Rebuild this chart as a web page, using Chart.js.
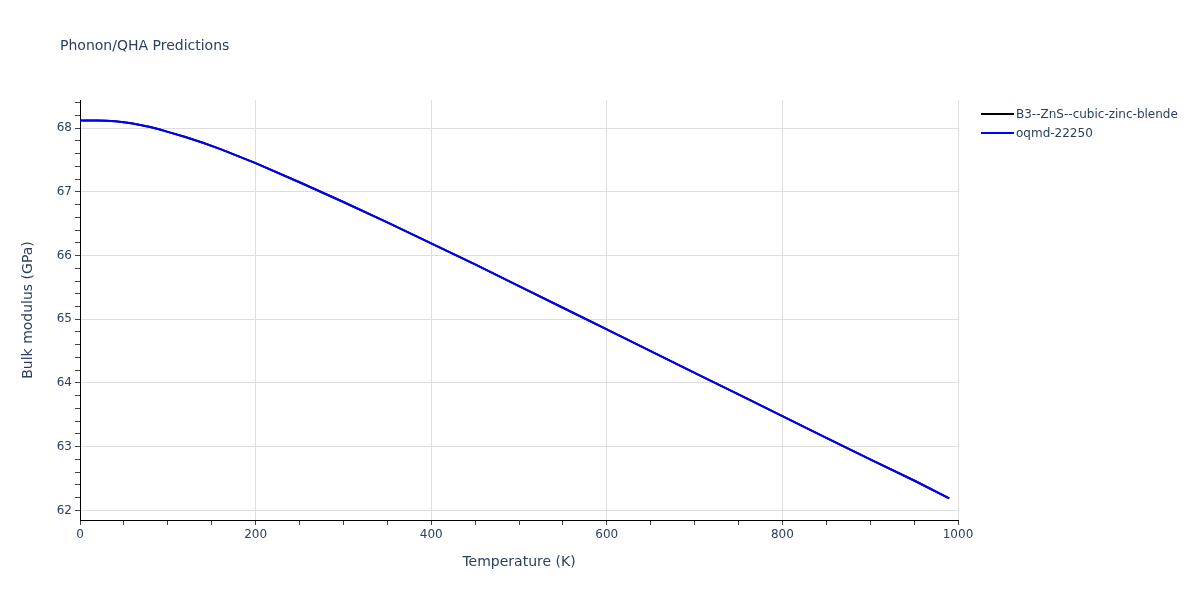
<!DOCTYPE html>
<html lang="en">
<head>
  <meta charset="UTF-8">
  <title>Phonon/QHA Predictions</title>
  <script src="https://cdn.jsdelivr.net/npm/chart.js"></script>
  <style>
    body {
      margin: 0;
      background: #fff;
      font-family: 'DejaVu Sans', Verdana, sans-serif;
      color: #2a3f5f;
    }
    .wrap {
      position: relative;
      width: 1200px;
      height: 600px;
    }
    #chartTitle {
      position: absolute;
      left: 60px;
      top: 35px;
      font-size: 14px;
      line-height: 20px;
    }
    #legend {
      position: absolute;
      left: 981px;
      top: 104px;
      font-size: 12px;
    }
    .legend-item {
      display: flex;
      align-items: center;
      height: 19px;
      white-space: nowrap;
    }
    .legend-line {
      width: 33px;
      height: 2px;
      margin-right: 2px;
    }
  </style>
</head>
<body>
  <div class="wrap">
    <canvas id="chartCanvas" width="1200" height="600"></canvas>
    <div id="chartTitle">Phonon/QHA Predictions</div>
    <div id="legend"></div>
  </div>

  <script>
    // temperature (K) and bulk modulus (GPa)
    const temperatures = [0, 10, 20, 30, 40, 50, 60, 70, 80, 90, 100, 120, 140, 160, 180, 200,
      250, 300, 350, 400, 450, 500, 550, 600, 650, 700, 750, 800, 850, 900, 950, 990];
    const bulkZincBlende = [68.12, 68.12, 68.12, 68.115, 68.105, 68.09, 68.07, 68.045, 68.015, 67.98,
      67.94, 67.86, 67.77, 67.67, 67.56, 67.45, 67.15, 66.84, 66.52, 66.19, 65.86, 65.52, 65.18,
      64.84, 64.50, 64.16, 63.82, 63.48, 63.14, 62.80, 62.47, 62.19];
    const bulkOqmd = [68.12, 68.12, 68.12, 68.115, 68.105, 68.09, 68.07, 68.045, 68.015, 67.98,
      67.94, 67.86, 67.77, 67.67, 67.56, 67.45, 67.15, 66.84, 66.52, 66.19, 65.86, 65.52, 65.18,
      64.84, 64.50, 64.16, 63.82, 63.48, 63.14, 62.80, 62.47, 62.19];
    const seriesNames = ['B3--ZnS--cubic-zinc-blende', 'oqmd-22250'];
    const seriesColors = ['#000000', '#0000ff'];
    const xLabelEvery = 200;
    const yLabelEvery = 1;

    const textColor = '#2a3f5f';
    const gridColor = '#dedede';
    Chart.defaults.font.family = "'DejaVu Sans', Verdana, sans-serif";
    Chart.defaults.color = textColor;

    const isWhole = v => Math.abs(v - Math.round(v)) < 1e-6;
    const toPoints = ys => temperatures.map((t, i) => ({ x: t, y: ys[i] }));

    const ctx = document.getElementById('chartCanvas').getContext('2d');
    const chart = new Chart(ctx, {
      type: 'line',
      data: {
        datasets: [
          {
            label: seriesNames[0],
            data: toPoints(bulkZincBlende),
            borderColor: seriesColors[0],
            borderWidth: 2,
            pointRadius: 0,
            order: 1
          },
          {
            label: seriesNames[1],
            data: toPoints(bulkOqmd),
            borderColor: seriesColors[1],
            borderWidth: 2,
            pointRadius: 0,
            order: 0
          }
        ]
      },
      options: {
        responsive: false,
        animation: false,
        layout: { padding: { top: 100, right: 242, bottom: 0, left: 0 } },
        plugins: {
          legend: { display: false },
          tooltip: { enabled: false }
        },
        scales: {
          x: {
            type: 'linear',
            min: 0,
            max: 1000,
            afterFit: s => { s.height = 80; },
            border: { color: '#000', width: 1 },
            grid: {
              color: c => (c.tick && c.tick.value % xLabelEvery === 0) ? gridColor : 'rgba(0,0,0,0)',
              tickColor: '#444',
              tickLength: 5
            },
            ticks: {
              stepSize: 50,
              autoSkip: false,
              maxRotation: 0,
              padding: 3,
              font: { size: 12 },
              callback: v => (v % xLabelEvery === 0 ? v : '')
            },
            title: {
              display: true,
              text: 'Temperature (K)',
              font: { size: 14 },
              padding: { top: 0, bottom: 29 }
            }
          },
          y: {
            min: 61.85,
            max: 68.44,
            afterFit: s => { s.width = 80; },
            border: { color: '#000', width: 1 },
            grid: {
              color: c => (c.tick && isWhole(c.tick.value / yLabelEvery)) ? gridColor : 'rgba(0,0,0,0)',
              tickColor: '#444',
              tickLength: 5
            },
            ticks: {
              stepSize: 0.2,
              includeBounds: false,
              autoSkip: false,
              padding: 3,
              font: { size: 12 },
              callback: v => (isWhole(v) ? Math.round(v) : '')
            },
            title: {
              display: true,
              text: 'Bulk modulus (GPa)',
              font: { size: 14 },
              padding: { top: 20, bottom: 0 }
            }
          }
        }
      }
    });

    // legend in dataset order, as in the source figure
    const legendEl = document.getElementById('legend');
    chart.data.datasets.forEach(ds => {
      const item = document.createElement('div');
      item.className = 'legend-item';
      const line = document.createElement('span');
      line.className = 'legend-line';
      line.style.background = ds.borderColor;
      const label = document.createElement('span');
      label.textContent = ds.label;
      item.appendChild(line);
      item.appendChild(label);
      legendEl.appendChild(item);
    });
  </script>
</body>
</html>
